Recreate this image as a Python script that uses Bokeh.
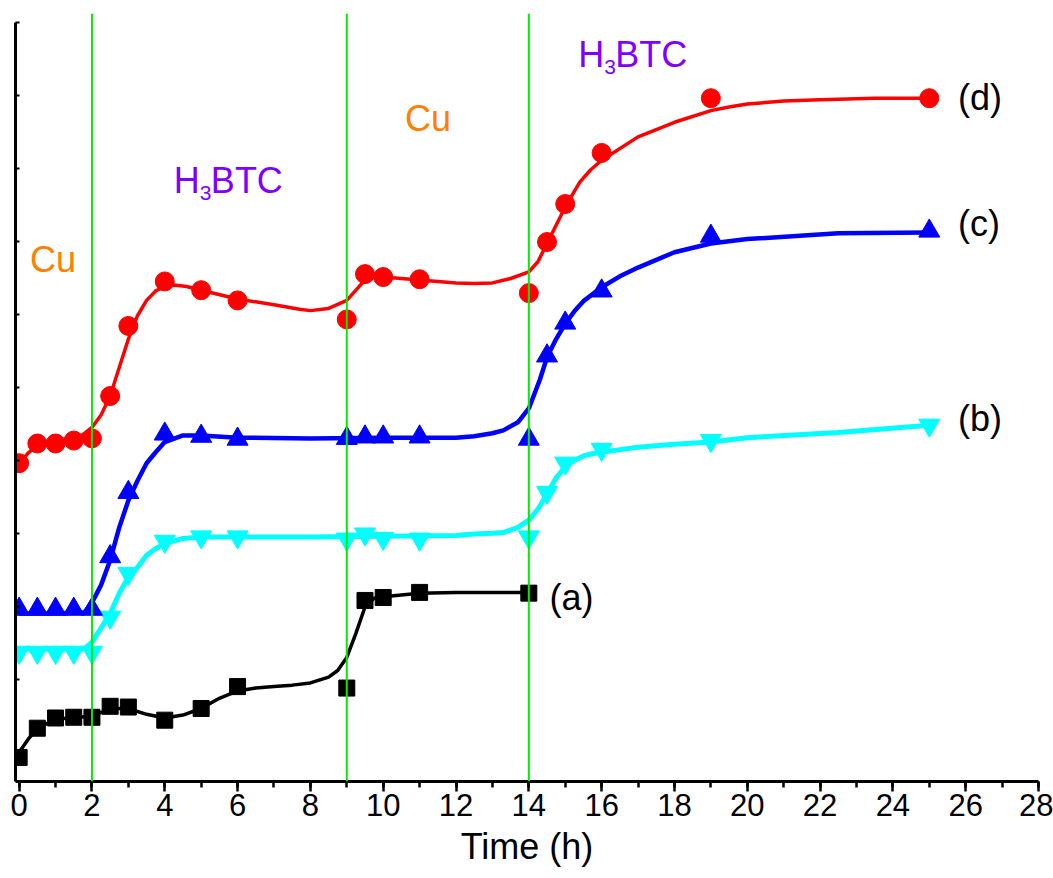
from bokeh.plotting import figure
from bokeh.models import Range1d, FixedTicker, Span
from bokeh.core.properties import value
from bokeh.embed import file_html
from bokeh.resources import INLINE

FONT = "Liberation Sans"

# ---- measured data (time in h, arbitrary signal units) ----
t_a = [0, 0.5, 1, 1.5, 2, 2.5, 3, 4, 5, 6, 9, 9.5, 10, 11, 14]
y_a = [-0.07, 0.33, 0.47, 0.48, 0.48, 0.63, 0.62, 0.44, 0.60, 0.90, 0.88, 2.08, 2.12, 2.19, 2.18]

t_bcd = [0, 0.5, 1, 1.5, 2, 2.5, 3, 4, 5, 6, 9, 9.5, 10, 11, 14, 14.5, 15, 16, 19, 25]
y_b = [1.37, 1.37, 1.37, 1.37, 1.37, 1.85, 2.45, 2.89, 2.95, 2.95, 2.92, 2.99, 2.93, 2.92, 2.95,
       3.56, 3.96, 4.15, 4.27, 4.48]
y_c = [1.96, 1.96, 1.96, 1.96, 1.96, 2.68, 3.56, 4.36, 4.33, 4.29, 4.30, 4.32, 4.32, 4.32, 4.29,
       5.43, 5.88, 6.32, 7.07, 7.14]
y_d = [3.96, 4.23, 4.23, 4.27, 4.30, 4.88, 5.84, 6.45, 6.33, 6.19, 5.93, 6.55, 6.51, 6.48, 6.29,
       6.99, 7.51, 8.21, 8.96, 8.96]

# ---- fitted (smoothed) curves ----
fit_t_a = [0, 0.25, 0.5, 1, 1.5, 2, 2.5, 3, 3.5, 4, 4.5, 5, 5.5, 6, 6.5, 7, 7.5, 8, 8.5, 8.75,
           9, 9.25, 9.5, 9.75, 10, 11, 12, 14]
fit_y_a = [0.00, 0.18, 0.33, 0.45, 0.48, 0.49, 0.60, 0.60, 0.52, 0.47, 0.51, 0.60, 0.74, 0.84,
           0.88, 0.90, 0.92, 0.95, 1.03, 1.12, 1.30, 1.63, 1.99, 2.11, 2.13, 2.18, 2.19, 2.19]

fit_t_b = [0, 1, 1.8, 2, 2.25, 2.5, 2.75, 3, 3.25, 3.5, 3.75, 4, 4.5, 5, 6, 8, 10, 12, 12.5, 13,
           13.3, 13.7, 14, 14.25, 14.5, 14.75, 15, 15.25, 15.5, 15.75, 16, 17, 18, 19, 20,
           22.5, 25]
fit_y_b = [1.41, 1.41, 1.42, 1.51, 1.70, 1.90, 2.18, 2.40, 2.53, 2.70, 2.79, 2.86, 2.93, 2.95,
           2.95, 2.95, 2.96, 2.97, 2.99, 3.00, 3.01, 3.08, 3.18, 3.33, 3.54, 3.76, 3.91, 4.00,
           4.06, 4.09, 4.11, 4.18, 4.22, 4.25, 4.31, 4.38, 4.48]

fit_t_c = [0, 1, 1.8, 2, 2.25, 2.5, 2.75, 3, 3.25, 3.5, 3.75, 4, 4.5, 5, 6, 8, 10, 12, 12.5, 13,
           13.3, 13.7, 14, 14.3, 14.5, 14.75, 15, 15.25, 15.5, 16, 16.5, 17, 18, 19, 20, 22.5, 25]
fit_y_c = [1.90, 1.90, 1.92, 2.05, 2.29, 2.63, 3.08, 3.45, 3.72, 3.96, 4.11, 4.25, 4.34, 4.34,
           4.31, 4.30, 4.31, 4.31, 4.33, 4.37, 4.41, 4.52, 4.71, 5.10, 5.41, 5.66, 5.87, 6.04,
           6.18, 6.37, 6.52, 6.64, 6.85, 6.97, 7.03, 7.11, 7.12]

fit_t_d = [0, 0.25, 0.5, 1, 1.5, 1.75, 2, 2.25, 2.5, 2.75, 3, 3.25, 3.5, 3.75, 4, 4.25, 4.6, 5,
           6, 7, 7.7, 8, 8.5, 9, 9.25, 9.5, 9.75, 10, 11, 12, 12.5, 13, 13.5, 14, 14.25, 14.5,
           15, 15.4, 15.7, 16, 17, 18, 19, 19.5, 20, 21, 22, 23.5, 25]
fit_y_d = [3.96, 4.10, 4.20, 4.27, 4.31, 4.35, 4.45, 4.62, 4.88, 5.27, 5.66, 5.98, 6.19, 6.32,
           6.38, 6.40, 6.38, 6.33, 6.21, 6.13, 6.07, 6.05, 6.08, 6.19, 6.33, 6.47, 6.51, 6.51,
           6.47, 6.43, 6.42, 6.43, 6.49, 6.58, 6.72, 6.97, 7.47, 7.81, 7.98, 8.11, 8.43, 8.63,
           8.79, 8.84, 8.88, 8.92, 8.94, 8.96, 8.96]

# ---- annotations ----
step_times = [2, 9, 14]
cu_x = [0.30, 10.60]
cu_y = [6.745, 8.675]
btc_x = [4.25, 15.36]
btc_y = [7.835, 9.565]
curve_labels = ["(a)", "(b)", "(c)", "(d)"]
curve_label_x = [14.57, 25.79, 25.79, 25.79]
curve_label_y = [2.125, 4.575, 7.245, 8.975]
x_major = list(range(0, 29, 2))
x_minor = list(range(0, 29))
y_ticks = list(range(0, 11))

p = figure(width=1053, height=876, x_range=Range1d(-0.1, 28), y_range=Range1d(-0.4, 10.12),
           output_backend="svg", toolbar_location=None,
           min_border_left=15, min_border_right=15, min_border_top=13, min_border_bottom=95)
p.outline_line_color = None
p.grid.visible = False

# x axis
xa = p.xaxis[0]
xa.ticker = FixedTicker(ticks=x_major, minor_ticks=x_minor)
xa.axis_line_width = 3
xa.major_tick_line_width = 2.5
xa.minor_tick_line_width = 2.5
xa.major_tick_in = 0
xa.major_tick_out = 10
xa.minor_tick_in = 0
xa.minor_tick_out = 6
xa.major_label_text_font = FONT
xa.major_label_text_font_size = "31px"
xa.major_label_text_color = "black"
xa.major_label_standoff = 2
xa.axis_label = "Time (h)"
xa.axis_label_text_font = FONT
xa.axis_label_text_font_size = "36px"
xa.axis_label_text_font_style = "normal"
xa.axis_label_text_color = "black"
xa.axis_label_standoff = 7

# y axis (no labels)
ya = p.yaxis[0]
ya.ticker = FixedTicker(ticks=y_ticks, minor_ticks=[])
ya.bounds = (-0.4, 10)
ya.axis_line_width = 3
ya.major_tick_line_width = 2
ya.major_tick_in = 4
ya.major_tick_out = 0
ya.minor_tick_in = 0
ya.minor_tick_out = 0
ya.major_label_overrides = {t: "" for t in y_ticks}
ya.major_label_standoff = 0
ya.major_label_text_font_size = "1px"

# curves + markers
p.line(fit_t_a, fit_y_a, line_color="black", line_width=3.5)
p.scatter(t_a, y_a, marker="square", size=16, fill_color="black", line_color="black")

p.line(fit_t_b, fit_y_b, line_color="#00ffff", line_width=5)
p.scatter(t_bcd, y_b, marker="inverted_triangle", size=21, fill_color="#00ffff", line_color="#00ffff")

p.line(fit_t_c, fit_y_c, line_color="#0000ff", line_width=4.5)
p.scatter(t_bcd, y_c, marker="triangle", size=21, fill_color="#0000ff", line_color="#0000ff")

p.line(fit_t_d, fit_y_d, line_color="#ff0000", line_width=3.5)
p.scatter(t_bcd, y_d, marker="circle", size=19, fill_color="#ff0000", line_color="#ff0000")

for t in step_times:
    p.add_layout(Span(location=t, dimension="height", line_color="#00ee00", line_width=2))

# text annotations
p.text(cu_x, cu_y, text=["Cu", "Cu"], text_font=value(FONT), text_font_size=value("36px"),
       text_color="#ff8000", text_align="left", text_baseline="alphabetic")
p.text(btc_x, btc_y, text=["H", "H"], text_font=value(FONT), text_font_size=value("36px"),
       text_color="#8000ff", text_align="left", text_baseline="alphabetic")
p.text(btc_x, btc_y, text=["3", "3"], text_font=value(FONT), text_font_size=value("21px"),
       text_color="#8000ff", text_align="left", text_baseline="alphabetic",
       x_offset=26, y_offset=13)
p.text(btc_x, btc_y, text=["BTC", "BTC"], text_font=value(FONT), text_font_size=value("36px"),
       text_color="#8000ff", text_align="left", text_baseline="alphabetic", x_offset=37)
p.text(curve_label_x, curve_label_y, text=curve_labels, text_font=value(FONT),
       text_font_size=value("36px"), text_color="black", text_align="left",
       text_baseline="alphabetic")

open("out.html", "w").write(file_html(p, INLINE))
